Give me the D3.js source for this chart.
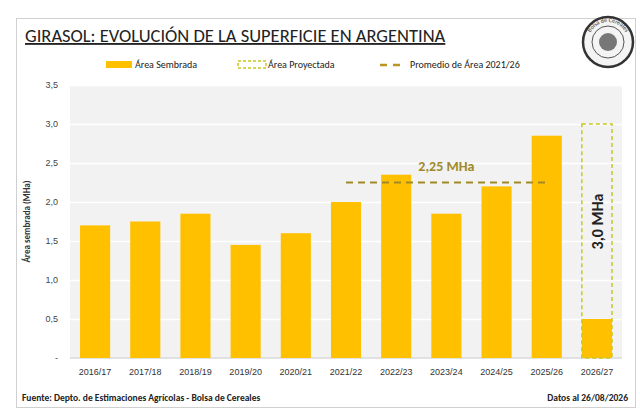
<!doctype html>
<html>
<head>
<meta charset="utf-8">
<style>
body { margin: 0; background: #fff; font-family: Calibri, Carlito, "Open Sans", sans-serif; }
</style>
</head>
<body>
<div id="container"></div>
<script src="https://d3js.org/d3.v7.min.js"></script>
<script>
var campaigns = ["2016/17", "2017/18", "2018/19", "2019/20", "2020/21", "2021/22", "2022/23", "2023/24", "2024/25", "2025/26", "2026/27"];
var sembrada = [1.70, 1.75, 1.85, 1.45, 1.60, 2.00, 2.35, 1.85, 2.20, 2.85, 0.50];
var proyectada = [null, null, null, null, null, null, null, null, null, null, 3.0];
var promedio = 2.25;
var promedioRange = ["2021/22", "2025/26"];
var yTicks = [0, 0.5, 1, 1.5, 2, 2.5, 3, 3.5];

var width = 640, height = 409;
var margin = {top: 85, right: 18, bottom: 51, left: 70};
var innerwidth = width - margin.left - margin.right,
    innerheight = height - margin.top - margin.bottom;

var svg = d3.select("#container").append("svg")
    .attr("width", width).attr("height", height);

// outer frame
svg.append("rect").attr("x", 16.5).attr("y", 18.5).attr("width", 619).attr("height", 389)
    .attr("fill", "none").attr("stroke", "#d0d0d0");

svg.append("text").attr("x", 25).attr("y", 42)
    .attr("font-size", 18.5).attr("fill", "#222")
    .attr("text-decoration", "underline")
    .text("GIRASOL: EVOLUCIÓN DE LA SUPERFICIE EN ARGENTINA");

// logo
var logo = svg.append("g").attr("transform", "translate(608,42)");
logo.append("circle").attr("r", 25).attr("fill", "#f4f4f4").attr("stroke", "#333").attr("stroke-width", 2.5);
logo.append("circle").attr("r", 16).attr("fill", "none").attr("stroke", "#555").attr("stroke-width", 1);
logo.append("circle").attr("r", 9).attr("fill", "#777");
logo.append("path").attr("id", "logoarc").attr("d", "M-20,0 A20,20 0 0,1 20,0").attr("fill", "none");
logo.append("text").attr("font-size", 6).attr("fill", "#333")
    .append("textPath").attr("href", "#logoarc").attr("startOffset", "50%").attr("text-anchor", "middle")
    .text("Bolsa de Cereales");

// legend
var lg = svg.append("g").attr("font-size", 10).attr("fill", "#222");
lg.append("rect").attr("x", 106).attr("y", 61).attr("width", 26).attr("height", 7).attr("fill", "#FFC000");
lg.append("text").attr("x", 135).attr("y", 68).text("Área Sembrada");
lg.append("rect").attr("x", 238).attr("y", 61).attr("width", 28).attr("height", 7)
    .attr("fill", "none").attr("stroke", "#C9C91E").attr("stroke-width", 1.5).attr("stroke-dasharray", "3,2");
lg.append("text").attr("x", 268).attr("y", 68).text("Área Proyectada");
lg.append("line").attr("x1", 380).attr("x2", 406).attr("y1", 65).attr("y2", 65)
    .attr("stroke", "#B8961F").attr("stroke-width", 2.5).attr("stroke-dasharray", "7,6");
lg.append("text").attr("x", 410).attr("y", 68).text("Promedio de Área 2021/26");

var g = svg.append("g").attr("transform", "translate(" + margin.left + "," + margin.top + ")");

var x = d3.scaleBand().domain(campaigns).range([0, innerwidth]).paddingInner(0.4).paddingOuter(0.2);
var y = d3.scaleLinear().domain([0, 3.5]).range([innerheight, 0]);

g.append("rect").attr("width", innerwidth).attr("height", innerheight).attr("fill", "#f2f2f2");

g.append("g").call(d3.axisLeft(y).tickValues(yTicks).tickSize(-innerwidth).tickFormat(""))
    .call(function (s) { s.select(".domain").remove(); s.selectAll("line").attr("stroke", "#fff").attr("stroke-width", 1.5); });

g.append("g").call(d3.axisLeft(y).tickValues(yTicks).tickSize(0).tickPadding(12)
        .tickFormat(function (d) { return d === 0 ? "-" : d3.format(".1f")(d).replace(".", ","); }))
    .call(function (s) { s.select(".domain").remove(); s.selectAll("text").attr("font-size", 9).attr("fill", "#444").attr("font-family", "inherit"); });

g.append("line").attr("x1", 0).attr("x2", innerwidth).attr("y1", innerheight).attr("y2", innerheight)
    .attr("stroke", "#d9d9d9").attr("stroke-width", 1.5);

g.append("g").attr("transform", "translate(0," + innerheight + ")")
    .call(d3.axisBottom(x).tickSize(0).tickPadding(11))
    .call(function (s) { s.select(".domain").remove(); s.selectAll("text").attr("font-size", 9).attr("fill", "#333").attr("font-family", "inherit"); });

g.append("text").attr("transform", "rotate(-90)").attr("x", -innerheight / 2).attr("y", -40)
    .attr("text-anchor", "middle").attr("font-size", 9).attr("font-weight", "bold").attr("fill", "#333")
    .text("Área sembrada (MHa)");

g.selectAll(".bar").data(campaigns).enter().append("rect")
    .attr("x", function (d) { return x(d); })
    .attr("width", x.bandwidth())
    .attr("y", function (d, i) { return y(sembrada[i]); })
    .attr("height", function (d, i) { return innerheight - y(sembrada[i]); })
    .attr("fill", "#FFC000");

campaigns.forEach(function (c, i) {
    if (proyectada[i] == null) return;
    g.append("rect").attr("x", x(c)).attr("width", x.bandwidth())
        .attr("y", y(proyectada[i])).attr("height", innerheight - y(proyectada[i]))
        .attr("fill", "none").attr("stroke", "#C9C91E").attr("stroke-width", 1.5).attr("stroke-dasharray", "4,3");
    var cx = x(c) + x.bandwidth() / 2, cy = (y(proyectada[i]) + y(sembrada[i])) / 2;
    g.append("text").attr("transform", "translate(" + (cx + 6) + "," + cy + ") rotate(-90)")
        .attr("text-anchor", "middle").attr("font-size", 16).attr("font-weight", "bold").attr("fill", "#222")
        .text(d3.format(".1f")(proyectada[i]).replace(".", ",") + " MHa");
});

var ax1 = x(promedioRange[0]) + x.bandwidth() / 2, ax2 = x(promedioRange[1]) + x.bandwidth() / 2;
g.append("line").attr("x1", ax1).attr("x2", ax2).attr("y1", y(promedio)).attr("y2", y(promedio))
    .attr("stroke", "#A08A28").attr("stroke-width", 2).attr("stroke-dasharray", "7,5");
g.append("text").attr("x", (ax1 + ax2) / 2).attr("y", y(promedio) - 12)
    .attr("text-anchor", "middle").attr("font-size", 14).attr("font-weight", "bold").attr("fill", "#A08A28")
    .text(d3.format(".2f")(promedio).replace(".", ",") + " MHa");

svg.append("text").attr("x", 22).attr("y", 401).attr("font-size", 9.5).attr("font-weight", "bold").attr("fill", "#222")
    .text("Fuente: Depto. de Estimaciones Agrícolas - Bolsa de Cereales");
svg.append("text").attr("x", 628).attr("y", 401).attr("text-anchor", "end").attr("font-size", 9.5).attr("font-weight", "bold").attr("fill", "#222")
    .text("Datos al 26/08/2026");
</script>
</body>
</html>
